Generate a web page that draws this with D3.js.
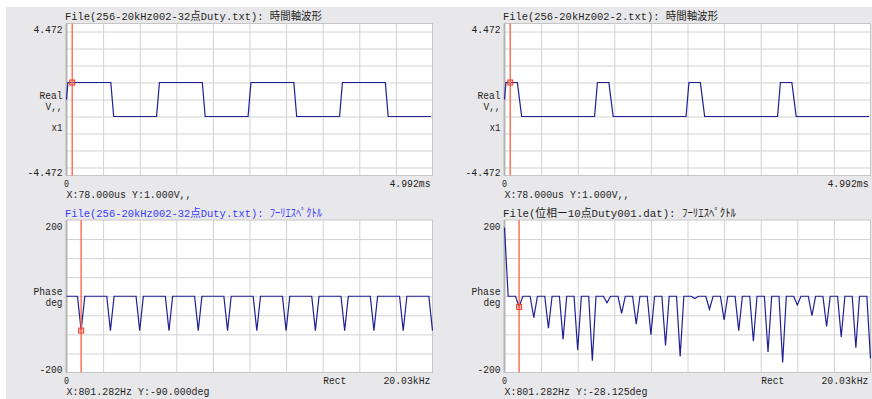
<!DOCTYPE html>
<html>
<head>
<meta charset="utf-8">
<script src="https://cdn.jsdelivr.net/npm/d3@7"></script>
<style>
  html, body { margin: 0; padding: 0; background: #fff; }
  svg { display: block; }
  text { font-family: "Liberation Mono", "Noto Sans Mono CJK JP", "Noto Sans CJK JP", monospace; font-size: 11px; fill: #1e1e1e; }
</style>
</head>
<body>
<svg id="chart" width="872" height="399"></svg>
<script>
// time traces: corner samples (index of 256) and level in V
let wave1Idx = [0, 1, 31, 32, 33, 63, 64, 65, 95, 96, 97, 127, 128, 129, 159, 160, 161, 191, 192, 193, 223, 224, 225, 255]
let wave1Val = [0, 1, 1, 0, -1, -1, 0, 1, 1, 0, -1, -1, 0, 1, 1, 0, -1, -1, 0, 1, 1, 0, -1, -1]
let wave2Idx = [0, 1, 9, 10, 11, 12, 63, 64, 65, 73, 74, 75, 76, 127, 128, 129, 137, 138, 139, 140, 191, 192, 193, 201, 202, 203, 204, 255]
let wave2Val = [0, 1, 1, 0.33, -0.33, -1, -1, 0, 1, 1, 0.33, -0.33, -1, -1, 0, 1, 1, 0.33, -0.33, -1, -1, 0, 1, 1, 0.33, -0.33, -1, -1]

// phase spectra: bins (200.32 Hz each, 0..100) that are not 0 deg
let phase1Bins = [4, 12, 20, 28, 36, 44, 52, 60, 68, 76, 84, 92, 100]
let phase1Deg = [-90, -90, -90, -90, -90, -90, -90, -90, -90, -90, -90, -90, -90]
let phase2Bins = [0, 4, 8, 12, 16, 20, 24, 28, 32, 36, 40, 44, 48, 52, 56, 60, 64, 68, 72, 76, 80, 84, 88, 92, 96, 100]
let phase2Deg = [180, -28, -56, -84, -113, -141, -169, -17, -45, -73, -101, -129, -158, -6, -34, -62, -90, -118, -146, -174, -23, -51, -79, -107, -135, -163]

let titles = [
  'File(256-20kHz002-32点Duty.txt): 時間軸波形',
  'File(256-20kHz002-2.txt): 時間軸波形',
  'File(256-20kHz002-32点Duty.txt): ﾌｰﾘｴｽﾍﾟｸﾄﾙ',
  'File(位相ー10点Duty001.dat): ﾌｰﾘｴｽﾍﾟｸﾄﾙ'
]
let readouts = ['X:78.000us Y:1.000V,,', 'X:78.000us Y:1.000V,,', 'X:801.282Hz Y:-90.000deg', 'X:801.282Hz Y:-28.125deg']
let timeYLabels = ['4.472', 'Real', 'V,,', 'x1', '-4.472']
let freqYLabels = ['200', 'Phase', 'deg', '-200']
let timeXLabels = ['0', '4.992ms']
let freqXLabels = ['0', 'Rect', '20.03kHz']
let cursorIdx = 4

let svg = d3.select('#chart')
svg.append('rect').attr('x', 6).attr('y', 7).attr('width', 866).attr('height', 392).attr('fill', '#e8e8ea')

// half-width chars are 6px, full-width 12px
function units (s) {
  let n = 0
  for (let ch of s) {
    let c = ch.codePointAt(0)
    n += (c > 0xff && !(c >= 0xff61 && c <= 0xff9f)) ? 2 : 1
  }
  return n
}
function label (g, str, x, y, anchor, color) {
  g.append('text')
    .attr('x', x).attr('y', y)
    .attr('text-anchor', anchor || 'start')
    .attr('textLength', units(str) * 6 - 1)
    .attr('lengthAdjust', 'spacingAndGlyphs')
    .style('fill', color || '#1e1e1e')
    .text(str)
}

let lefts = [66.5, 504.5]
let tops = [23.5, 220]
let pw = 366

function panel (col, row, cfg) {
  let x0 = lefts[col], x1 = x0 + pw
  let y0 = tops[row], y1 = row === 0 ? 175.5 : 372.5
  let g = svg.append('g')

  let x = d3.scaleLinear().domain(cfg.xDomain).range([x0, x1])
  let y = d3.scaleLinear().domain(cfg.yDomain).range([y1, y0])

  g.append('rect').attr('x', x0).attr('y', y0).attr('width', pw).attr('height', y1 - y0)
    .attr('fill', '#fff').attr('stroke', '#c6c6c6').attr('stroke-width', 1)

  let xg = d3.scaleLinear().domain([0, 10]).range([x0, x1])
  g.append('g').attr('transform', 'translate(0,' + y1 + ')')
    .call(d3.axisBottom(xg).tickValues(d3.range(1, 10)).tickSize(-(y1 - y0)).tickFormat(''))
  g.append('g').attr('transform', 'translate(' + x0 + ',0)')
    .call(d3.axisLeft(y).tickValues(cfg.yGrid).tickSize(-pw).tickFormat(''))
  g.selectAll('.domain').remove()
  g.selectAll('.tick line').attr('stroke', '#d2d2d2').attr('stroke-width', 1)

  g.append('line').attr('x1', x0).attr('x2', x0).attr('y1', y0).attr('y2', y1)
    .attr('stroke', '#b4b4b4').attr('stroke-width', 2)

  let line = d3.line().x(d => x(d[0])).y(d => y(d[1]))
  g.append('path').datum(cfg.points)
    .attr('d', line).attr('fill', 'none').attr('stroke', '#1f1f96').attr('stroke-width', 1.2)

  // cursor
  let cx = x(cursorIdx)
  let cy = y(cfg.cursorVal)
  g.append('line').attr('x1', cx).attr('x2', cx).attr('y1', y0).attr('y2', y1)
    .attr('stroke', '#ff6a4e').attr('stroke-width', 1.4)
  g.append('rect').attr('x', cx - 2.5).attr('y', cy - 2.5).attr('width', 5).attr('height', 5)
    .attr('fill', 'rgba(255,110,90,0.35)').attr('stroke', '#f03a26').attr('stroke-width', 1)

  // texts
  label(g, cfg.title, x0 - 1.5, y0 - 3.5, 'start', cfg.titleColor)
  let yl = cfg.yLabels
  let zero = y(0)
  label(g, yl[0], x0 - 4, y0 + 9.5, 'end')
  if (row === 0) {
    label(g, yl[1], x0 - 4, zero - 1, 'end')
    label(g, yl[2], x0 - 4, zero + 10.5, 'end')
    label(g, yl[3], x0 - 4, zero + 31.5, 'end')
    label(g, yl[4], x0 - 4, y1 + 0.5, 'end')
    label(g, timeXLabels[0], x0, y1 + 11, 'middle')
    label(g, timeXLabels[1], x1 - 2, y1 + 11, 'end')
  } else {
    label(g, yl[1], x0 - 4, zero - 1, 'end')
    label(g, yl[2], x0 - 4, zero + 10, 'end')
    label(g, yl[3], x0 - 4, y1 + 0.5, 'end')
    label(g, freqXLabels[0], x0, y1 + 11.5, 'middle')
    label(g, freqXLabels[1], x0 + pw * 0.7 + 0.5, y1 + 11.5, 'start')
    label(g, freqXLabels[2], x1 - 2, y1 + 11.5, 'end')
  }
  label(g, cfg.readout, x0, y1 + 22.5, 'start')
}

function timePoints (idx, val) { return idx.map((s, i) => [s, val[i]]) }
function specPoints (bins, deg) {
  let m = new Map(bins.map((b, i) => [b, deg[i]]))
  return d3.range(0, 101).map(b => [b, m.has(b) ? m.get(b) : 0])
}
function valueAt (pts, k) {
  let p = pts.find(d => d[0] === k)
  return p ? p[1] : 1
}

let w1 = timePoints(wave1Idx, wave1Val)
let w2 = timePoints(wave2Idx, wave2Val)
let p1 = specPoints(phase1Bins, phase1Deg)
let p2 = specPoints(phase2Bins, phase2Deg)

let timeCfg = { xDomain: [0, 256], yDomain: [-4.472, 4.472], yGrid: [-4, -3, -2, -1, 0, 1, 2, 3, 4], yLabels: timeYLabels }
let freqCfg = { xDomain: [0, 100], yDomain: [-200, 200], yGrid: [-150, -100, -50, 0, 50, 100, 150], yLabels: freqYLabels }

panel(0, 0, Object.assign({}, timeCfg, { points: w1, cursorVal: 1, title: titles[0], readout: readouts[0] }))
panel(1, 0, Object.assign({}, timeCfg, { points: w2, cursorVal: 1, title: titles[1], readout: readouts[1] }))
panel(0, 1, Object.assign({}, freqCfg, { points: p1, cursorVal: valueAt(p1, cursorIdx), title: titles[2], readout: readouts[2], titleColor: '#3a3aff' }))
panel(1, 1, Object.assign({}, freqCfg, { points: p2, cursorVal: valueAt(p2, cursorIdx), title: titles[3], readout: readouts[3] }))
</script>
</body>
</html>
